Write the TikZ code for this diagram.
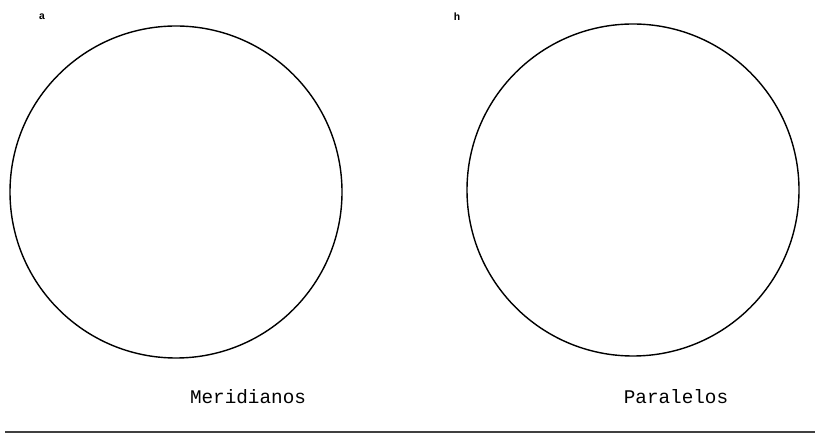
\documentclass[tikz,border=0pt]{standalone}
\usepackage{fontspec}
\setmonofont{Liberation Mono}
\usepackage{tikz}
\usetikzlibrary{positioning}
\tikzset{
  globenode/.style={circle,draw=black,line width=0.8pt,minimum size=332*0.02cm,inner sep=0pt},
  tagnode/.style={font=\ttfamily\fontsize{6}{7}\selectfont\bfseries,inner sep=0pt},
  capnode/.style={font=\ttfamily\fontsize{11}{13}\selectfont,inner sep=0pt},
  baseline/.style={line width=1.4pt,black!75},
}

\begin{document}
\begin{tikzpicture}[x=0.02cm,y=-0.02cm]
  \useasboundingbox (0,0) rectangle (815,435);
  % ---- (a) meridians, (h) parallels ----
  \node[globenode] (Gm) at (176,192) {};
  \node[globenode] (Gp) at (633,190) {};
  \node[tagnode] (a) at (42,17) {a};
  \node[tagnode] (h) at (457,17) {h};
  \node[capnode] (Lm) at (248,397) {Meridianos};
  \node[capnode] (Lp) at (676,397) {Paralelos};
  \coordinate (B1) at (5,432);
  \coordinate (B2) at (815,432);
  \draw[baseline] (B1) -- (B2);
\end{tikzpicture}
\end{document}
